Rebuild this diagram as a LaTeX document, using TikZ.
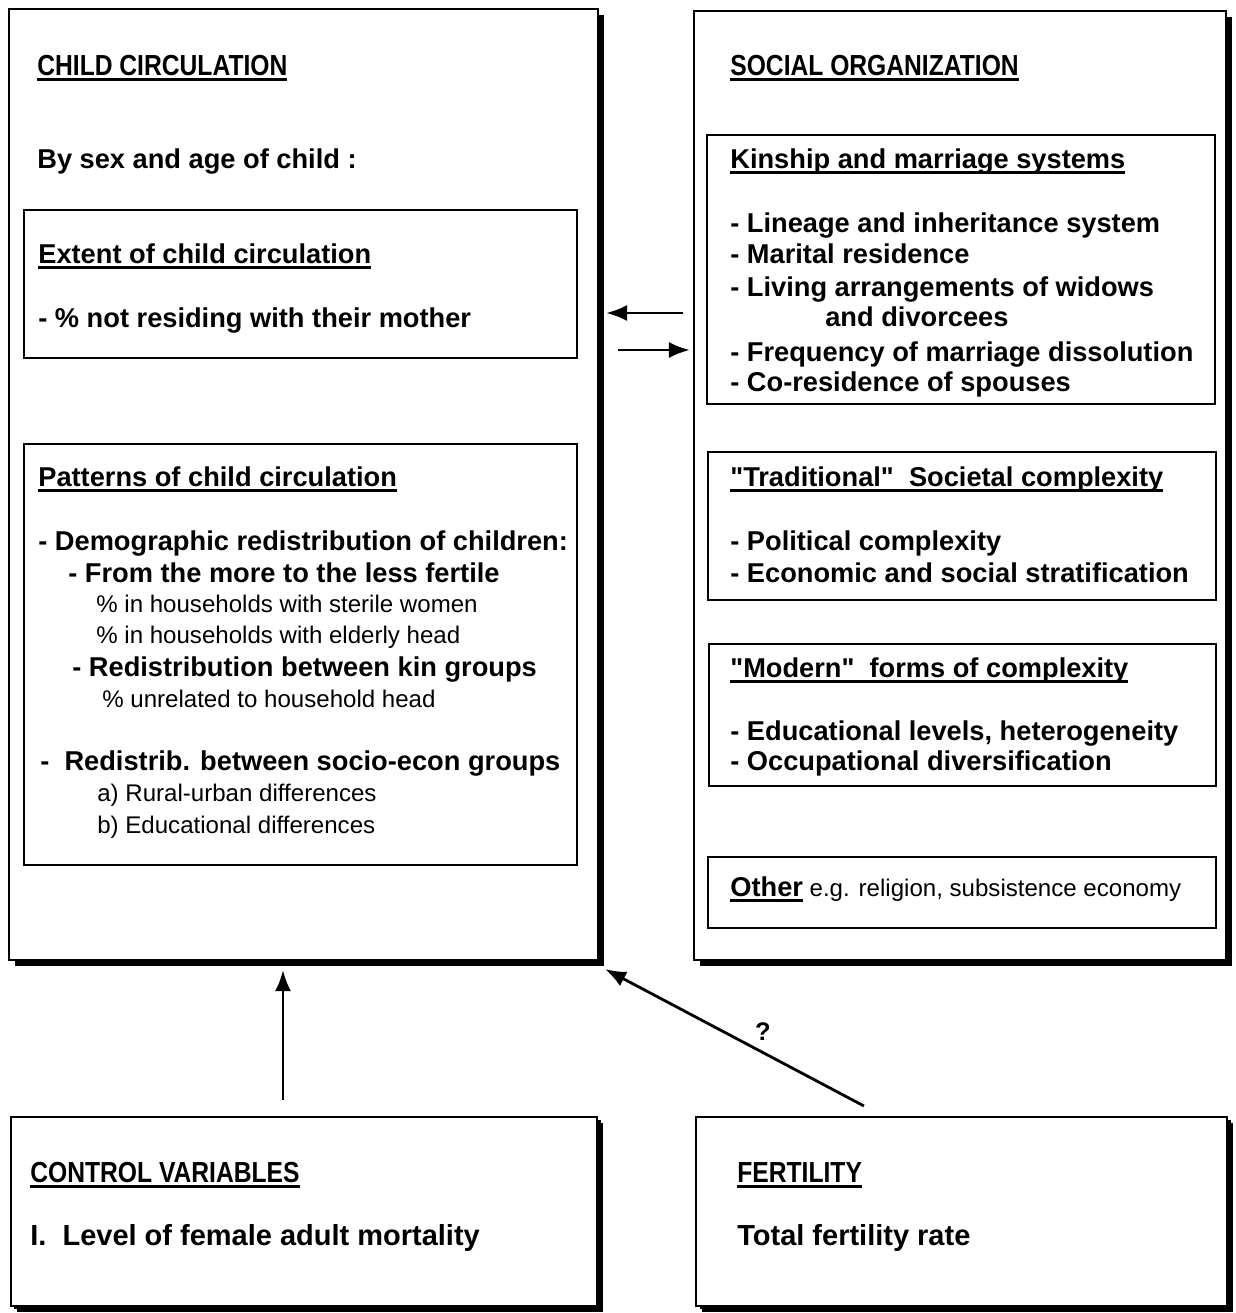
\documentclass[tikz,border=0pt]{standalone}
\usepackage{fontspec}
\setmainfont{Liberation Sans}
\newfontfamily\ttlfont[FakeStretch=0.85]{Liberation Sans}
\newcommand{\ulx}[1]{\setbox0\hbox{#1}\leavevmode\rlap{\rule[-3.2pt]{\wd0}{1.5pt}}\box0\relax}
\usetikzlibrary{arrows.meta,shadows,fit}

\begin{document}
\begin{tikzpicture}[x=0.02cm,y=-0.02cm]

    % styles
    \tikzstyle{panel} = [draw,line width=1.2pt,fill=white,inner sep=0pt,
        drop shadow={shadow xshift=0.12cm,shadow yshift=-0.12cm,fill=black,opacity=1}]
    \tikzstyle{minipanel} = [panel,
        drop shadow={shadow xshift=0.07cm,shadow yshift=-0.05cm,fill=black,opacity=1}]
    \tikzstyle{frame} = [draw,line width=1.4pt,inner sep=0pt]
    \tikzstyle{lbl} = [anchor=base west,inner sep=0pt,
        font=\bfseries\fontsize{15.5}{18}\selectfont]
    \tikzstyle{lblr} = [anchor=base west,inner sep=0pt,
        font=\fontsize{13.7}{16}\selectfont]
    \tikzstyle{ttl} = [anchor=base west,inner sep=0pt,
        font=\ttlfont\bfseries\fontsize{16.5}{19}\selectfont]
    \tikzstyle{lblbig} = [anchor=base west,inner sep=0pt,
        font=\bfseries\fontsize{16.5}{19}\selectfont]
    \tikzstyle{link} = [line width=1.6pt,-{Latex[length=0.42cm,width=0.32cm]}]

    \useasboundingbox (0,0) rectangle (1236,1313);

    % child circulation
    \node[panel,fit={(9,9) (598,960)}] (child) {};
    \node[frame,fit={(24,210) (577,358)}] (extent) {};
    \node[frame,fit={(24,444) (577,865)}] (patterns) {};
    \node[ttl] (cc) at (37,75) {\ulx{CHILD CIRCULATION}};
    \node[lbl] (bysex) at (37,168) {By sex and age of child :};
    \node[lbl] (ext) at (38,263) {\ulx{Extent of child circulation}};
    \node[lbl] (ext1) at (38,327) {- \% not residing with their mother};
    \node[lbl] (pat) at (38,486) {\ulx{Patterns of child circulation}};
    \foreach \x/\y/\t [count=\i] in {
        38/550/{- Demographic redistribution of children:},
        68/582/{- From the more to the less fertile},
        72/676/{- Redistribution between kin groups},
        40/770/{- \ Redistrib. between socio-econ groups}} {
        \node[lbl] (pat\i) at (\x,\y) {\t};
    }
    \foreach \x/\y/\t [count=\i] in {
        96/612/{\% in households with sterile women},
        96/643/{\% in households with elderly head},
        102/707/{\% unrelated to household head},
        97/801/{a) Rural-urban differences},
        97/833/{b) Educational differences}} {
        \node[lblr] (patr\i) at (\x,\y) {\t};
    }

    % social organization
    \node[panel,fit={(694,11) (1226,960)}] (social) {};
    \node[frame,fit={(707,135) (1215,404)}] (kinship) {};
    \node[frame,fit={(708,452) (1216,600)}] (trad) {};
    \node[frame,fit={(709,644) (1216,786)}] (modern) {};
    \node[frame,fit={(708,857) (1216,928)}] (other) {};
    \node[ttl] (so) at (730,75) {\ulx{SOCIAL ORGANIZATION}};
    \node[lbl] (kin) at (730,168) {\ulx{Kinship and marriage systems}};
    \foreach \x/\y/\t [count=\i] in {
        730/232/{- Lineage and inheritance system},
        730/263/{- Marital residence},
        730/296/{- Living arrangements of widows},
        825/326/{and divorcees},
        730/361/{- Frequency of marriage dissolution},
        730/391/{- Co-residence of spouses}} {
        \node[lbl] (kin\i) at (\x,\y) {\t};
    }
    \node[lbl] (tr) at (730,486) {\ulx{\textquotedbl Traditional\textquotedbl\ \ Societal complexity}};
    \node[lbl] (tr1) at (730,550) {- Political complexity};
    \node[lbl] (tr2) at (730,582) {- Economic and social stratification};
    \node[lbl] (mo) at (730,677) {\ulx{\textquotedbl Modern\textquotedbl\ \ forms of complexity}};
    \node[lbl] (mo1) at (730,740) {- Educational levels, heterogeneity};
    \node[lbl] (mo2) at (730,770) {- Occupational diversification};
    \node[lblr] (oth) at (730,896) {\ulx{\bfseries\fontsize{15.5}{18}\selectfont Other} e.g. religion, subsistence economy};

    % control variables and fertility
    \node[minipanel,fit={(11,1117) (597,1306)}] (control) {};
    \node[minipanel,fit={(696,1117) (1227,1306)}] (fert) {};
    \node[ttl] (cv) at (30,1182) {\ulx{CONTROL VARIABLES}};
    \node[lblbig] (cv1) at (30,1245) {I. \ Level of female adult mortality};
    \node[ttl] (fe) at (737,1182) {\ulx{FERTILITY}};
    \node[lblbig] (fe1) at (737,1245) {Total fertility rate};

    % links
    \coordinate (socl) at (683,313);
    \coordinate (ccr) at (618,350);
    \coordinate (cvtop) at (283,1100);
    \draw[link] (socl) -- ([xshift=0.14cm]child.east |- socl);
    \draw[link] (ccr) -- ([xshift=-0.06cm]social.west |- ccr);
    \draw[link] (cvtop) -- ([yshift=-0.18cm]cvtop |- child.south);
    \draw[link] ([xshift=3.38cm,yshift=0.2cm]fert.north west) -- ([xshift=0.12cm,yshift=-0.16cm]child.south east)
        node[pos=0.39,above=3pt,font=\bfseries\fontsize{14.5}{17}\selectfont] (q) {?};
\end{tikzpicture}
\end{document}
